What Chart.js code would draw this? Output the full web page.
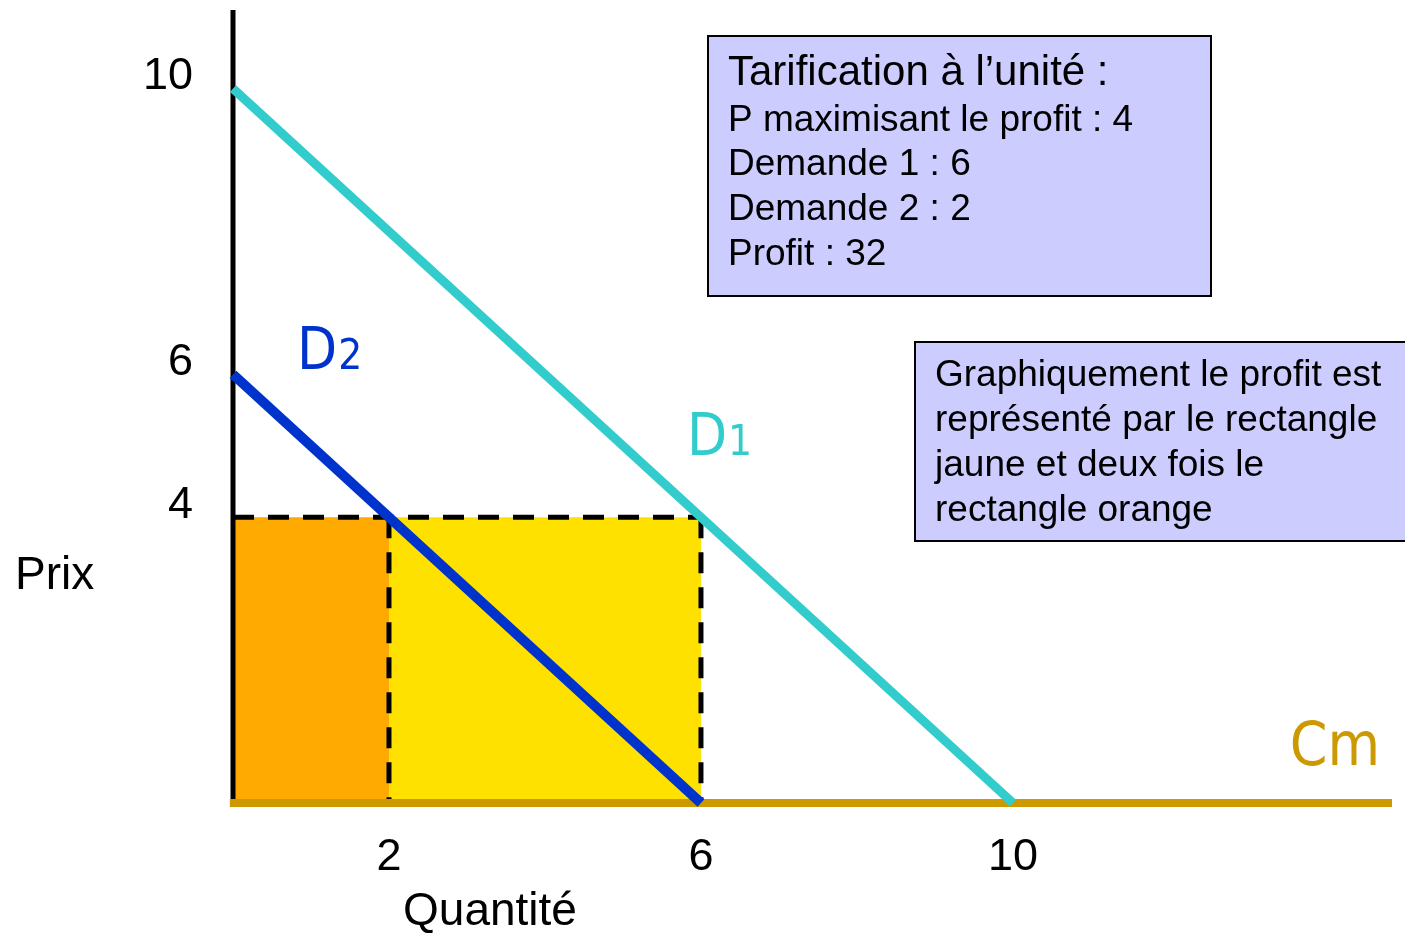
<!DOCTYPE html>
<html>
<head>
<meta charset="utf-8">
<script src="https://cdn.jsdelivr.net/npm/chart.js@4"></script>
<style>
  body { margin: 0; background: #fff; }
</style>
</head>
<body>
<canvas id="graph" width="1405" height="933"></canvas>
<script>
// Données du graphique (prix / quantité)
const demande1 = [{ x: 0, y: 10 }, { x: 10, y: 0 }];
const demande2 = [{ x: 0, y: 6 }, { x: 6, y: 0 }];
const coutMarginal = [{ x: -0.04, y: 0 }, { x: 14.86, y: 0 }];
const axePrix = [{ x: 0, y: 0 }, { x: 0, y: 11.1 }];
const prixOptimal = 4;
const quantite2 = 2;
const quantite1 = 6;
const ticksX = [2, 6, 10];
const ticksY = [4, 6, 10];

const encadre1 = ["Tarification à l’unité :", "P maximisant le profit : 4", "Demande 1 : 6", "Demande 2 : 2", "Profit : 32"];
const encadre2 = ["Graphiquement le profit est", "représenté par le rectangle", "jaune et deux fois le", "rectangle orange"];

const fontTexte = '"Liberation Sans", Arial, sans-serif';
const fontEtroite = '"Liberation Sans Narrow", "DejaVu Sans Condensed", sans-serif';

// Plugin pour les textes (étiquettes des courbes, encadrés, titres des axes)
const textesPlugin = {
    id: 'textes',
    afterDraw(chart) {
        const ctx = chart.ctx;
        const sx = chart.scales.x, sy = chart.scales.y;
        ctx.save();
        ctx.textBaseline = 'alphabetic';

        // étiquettes des courbes
        function etiquette(lettre, indice, q, p, couleur, taille, tailleIndice) {
            const px = sx.getPixelForValue(q), py = sy.getPixelForValue(p);
            ctx.fillStyle = couleur;
            ctx.font = taille + 'px ' + fontEtroite;
            ctx.fillText(lettre, px, py);
            if (indice) {
                const w = ctx.measureText(lettre).width;
                ctx.font = tailleIndice + 'px ' + fontEtroite;
                ctx.fillText(indice, px + w + 1, py);
            }
        }
        etiquette('D', '2', 0.82, 6.08, '#0033CC', 58, 42);
        etiquette('D', '1', 5.82, 4.87, '#33CCCC', 58, 42);
        etiquette('Cm', '', 13.55, 0.53, '#CC9900', 60, 0);

        // encadrés : chaque ligne a sa taille et sa position verticale
        function encadre(x, y, w, h, lignes, tailles, positions) {
            ctx.fillStyle = '#CCCCFF';
            ctx.fillRect(x, y, w, h);
            ctx.strokeStyle = '#000';
            ctx.lineWidth = 2;
            ctx.strokeRect(x, y, w, h);
            ctx.fillStyle = '#000';
            ctx.textBaseline = 'middle';
            lignes.forEach((l, i) => {
                ctx.font = tailles[i] + 'px ' + fontTexte;
                ctx.fillText(l, x + 20, positions[i]);
            });
        }
        encadre(708, 36, 503, 260, encadre1, [42, 37, 37, 37, 37], [73, 121, 165, 210, 255]);
        encadre(915, 342, 500, 199, encadre2, [37, 37, 37, 37], [376, 421, 466, 511]);

        // titres des axes
        ctx.textBaseline = 'alphabetic';
        ctx.font = '46px ' + fontTexte;
        ctx.fillText('Prix', 15, 589);
        ctx.textAlign = 'center';
        ctx.fillText('Quantité', 490, 925);
        ctx.restore();
    }
};

const pointilles = { borderColor: '#000', borderWidth: 5, borderDash: [21, 14], pointRadius: 0, clip: false, showLine: true, order: 3 };

const ctx = document.getElementById('graph').getContext('2d');
const graph = new Chart(ctx, {
    type: 'scatter',
    data: {
        datasets: [
            // axe vertical (par-dessus les rectangles, sous Cm)
            {
                label: 'axe',
                data: axePrix,
                showLine: true,
                borderColor: '#000',
                borderWidth: 5,
                pointRadius: 0,
                clip: false,
                order: 2.5
            },
            {
                label: 'D1',
                data: demande1,
                showLine: true,
                borderColor: '#33CCCC',
                borderWidth: 9,
                pointRadius: 0,
                clip: false,
                order: 1
            },
            {
                label: 'D2',
                data: demande2,
                showLine: true,
                borderColor: '#0033CC',
                borderWidth: 10,
                pointRadius: 0,
                clip: false,
                order: 1
            },
            {
                label: 'Cm',
                data: coutMarginal,
                showLine: true,
                borderColor: '#CC9900',
                borderWidth: 8,
                pointRadius: 0,
                clip: false,
                order: 2
            },
            // pointillés du prix et des quantités
            Object.assign({ label: 'prix', data: [{ x: 0, y: prixOptimal }, { x: quantite1, y: prixOptimal }] }, pointilles),
            Object.assign({ label: 'q2', data: [{ x: quantite2, y: prixOptimal }, { x: quantite2, y: 0 }] }, pointilles),
            Object.assign({ label: 'q1', data: [{ x: quantite1, y: prixOptimal }, { x: quantite1, y: 0 }] }, pointilles),
            // rectangles de profit
            {
                label: 'orange',
                data: [{ x: 0, y: prixOptimal }, { x: quantite2, y: prixOptimal }],
                showLine: true,
                borderWidth: 0,
                pointRadius: 0,
                fill: 'origin',
                backgroundColor: '#FFAA00',
                order: 4
            },
            {
                label: 'jaune',
                data: [{ x: quantite2, y: prixOptimal }, { x: quantite1, y: prixOptimal }],
                showLine: true,
                borderWidth: 0,
                pointRadius: 0,
                fill: 'origin',
                backgroundColor: '#FFE100',
                order: 4
            }
        ]
    },
    options: {
        responsive: false,
        animation: false,
        layout: { padding: { left: 0, right: 13, top: 10, bottom: 0 } },
        plugins: {
            legend: { display: false },
            tooltip: { enabled: false }
        },
        scales: {
            x: {
                type: 'linear',
                min: 0,
                max: 14.86,
                grid: { display: false },
                border: { display: false },
                afterBuildTicks: (scale) => { scale.ticks = ticksX.map(v => ({ value: v })); },
                afterFit: (scale) => {
                    scale.height = 130;
                    scale.paddingLeft = 0;
                    scale.paddingRight = 0;
                },
                ticks: {
                    color: '#000',
                    font: { size: 45, family: fontTexte },
                    padding: 20,
                    maxRotation: 0
                }
            },
            y: {
                type: 'linear',
                min: 0,
                max: 11.1,
                grid: { display: false },
                border: { display: false },
                afterBuildTicks: (scale) => { scale.ticks = ticksY.map(v => ({ value: v })); },
                afterFit: (scale) => {
                    scale.width = 233;
                    scale.paddingTop = 0;
                    scale.paddingBottom = 0;
                },
                ticks: {
                    color: '#000',
                    font: { size: 45, family: fontTexte },
                    padding: 32,
                    labelOffset: -12
                }
            }
        }
    },
    plugins: [textesPlugin]
});
</script>
</body>
</html>
